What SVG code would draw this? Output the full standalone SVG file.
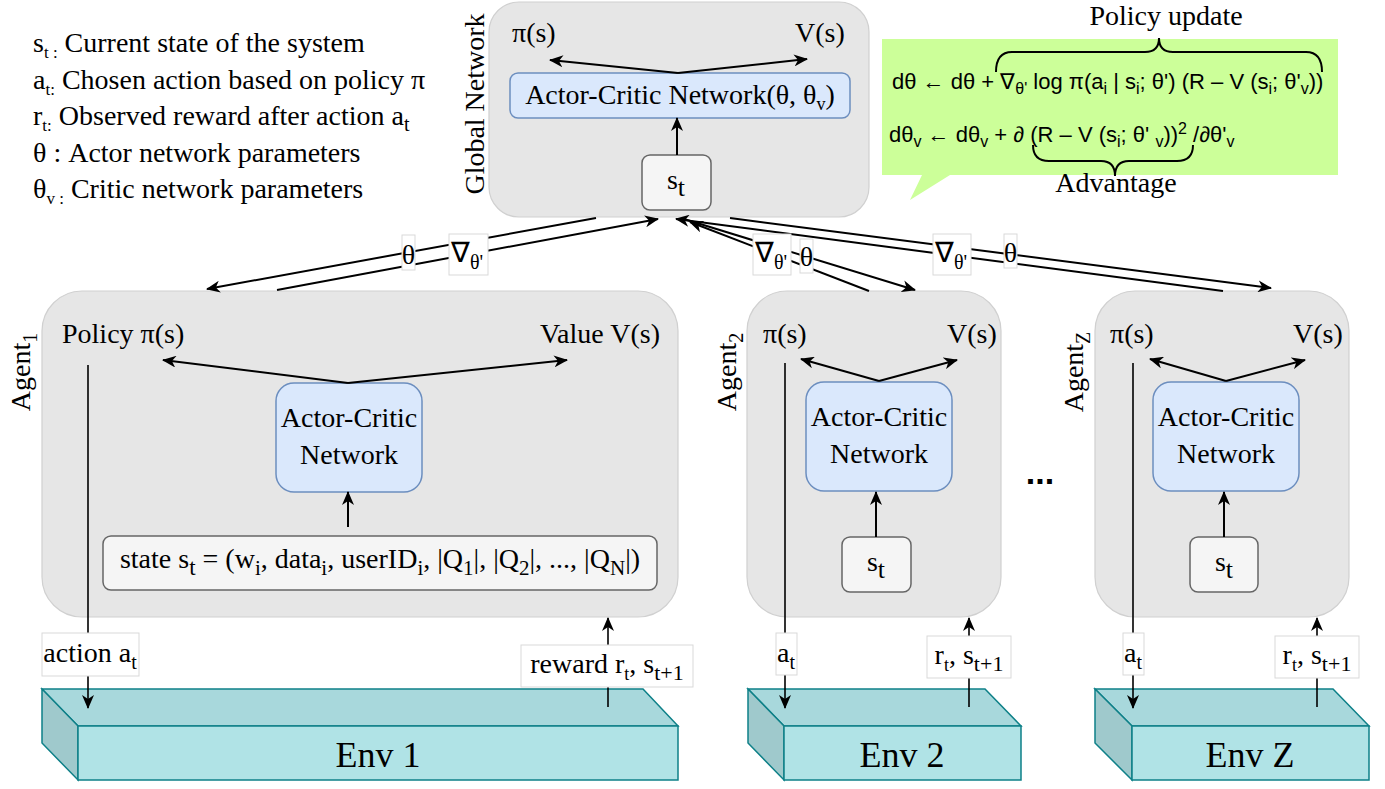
<svg xmlns="http://www.w3.org/2000/svg" width="1385" height="789" viewBox="0 0 1385 789">
<style>
.t{font-family:"Liberation Serif","Times New Roman",serif;font-size:28px;fill:#000}
.eq{font-family:"Liberation Sans",Arial,sans-serif;font-size:22px;fill:#000}
.env{font-family:"Liberation Serif","Times New Roman",serif;font-size:36px;fill:#000}
.box{fill:#e6e6e6;stroke:#d0d0d0;stroke-width:1.2}
.ac{fill:#dae8fc;stroke:#6c8ebf;stroke-width:1.5}
.st{fill:#f5f5f5;stroke:#666;stroke-width:1.5}
.lbl{fill:#fff;stroke:#d9d9d9;stroke-width:1}
.ln{stroke:#000;stroke-width:2;fill:none}
.ln1{stroke:#000;stroke-width:1.6;fill:none}
.ef{fill:#b0e3e6;stroke:#0e8088;stroke-width:1.5}
.et{fill:#a8d8dc;stroke:#0e8088;stroke-width:1.5}
.es{fill:#9fc9cc;stroke:#0e8088;stroke-width:1.5}
.brace{stroke:#000;stroke-width:2;fill:none}
</style>
<defs>
<marker id="ah" viewBox="0 0 14 12" refX="13" refY="6" markerWidth="14" markerHeight="12" markerUnits="userSpaceOnUse" orient="auto">
<path d="M0,0 L14,6 L0,12 L4,6 z" fill="#000"/>
</marker>
</defs>

<g id="legend">
<text class="t" x="33" y="52">s<tspan dy="6" font-size="17">t :</tspan><tspan dy="-6"> Current state of the system</tspan></text>
<text class="t" x="33" y="89">a<tspan dy="6" font-size="17">t:</tspan><tspan dy="-6"> Chosen action based on policy π</tspan></text>
<text class="t" x="33" y="125">r<tspan dy="6" font-size="17">t:</tspan><tspan dy="-6"> Observed reward after action a</tspan><tspan dy="6" font-size="20">t</tspan></text>
<text class="t" x="33" y="162">θ : Actor network parameters</text>
<text class="t" x="33" y="198">θ<tspan dy="6" font-size="17">v :</tspan><tspan dy="-6"> Critic network parameters</tspan></text>
</g>

<g id="global">
<rect class="box" x="489" y="2" width="380" height="215" rx="30"/>
<text class="t" transform="translate(484,104) rotate(-90)" text-anchor="middle">Global Network</text>
<text class="t" x="512" y="42">π(s)</text>
<text class="t" x="795" y="42">V(s)</text>
<rect class="ac" x="510" y="73" width="340" height="45" rx="8"/>
<text class="t" x="680" y="104" text-anchor="middle">Actor-Critic Network(θ, θ<tspan dy="6" font-size="18">v</tspan><tspan dy="-6">)</tspan></text>
<rect class="st" x="642" y="155" width="69" height="55" rx="8"/>
<text class="t" x="676" y="189" text-anchor="middle" font-size="30">s<tspan dy="7" font-size="26">t</tspan></text>
<line class="ln" x1="678" y1="73" x2="550" y2="60" marker-end="url(#ah)"/>
<line class="ln" x1="678" y1="73" x2="807" y2="59" marker-end="url(#ah)"/>
<line class="ln" x1="677" y1="155" x2="677" y2="118" marker-end="url(#ah)"/>
</g>

<g id="callout">
<path d="M882,39 H1338 V175 H950 L910,200 L922,175 H882 Z" fill="#ccff99"/>
<text class="t" x="1166" y="25" text-anchor="middle">Policy update</text>
<path class="brace" d="M996,72 Q996,52 1012,52 L1145,52 Q1159,52 1159,38 Q1159,52 1173,52 L1306,52 Q1322,52 1322,72"/>
<text class="eq" x="892" y="89">dθ ← dθ + ∇<tspan dy="5" font-size="16">θ'</tspan><tspan dy="-5"> log π(a</tspan><tspan dy="5" font-size="16">i</tspan><tspan dy="-5"> | s</tspan><tspan dy="5" font-size="16">i</tspan><tspan dy="-5">; θ') (R – V (s</tspan><tspan dy="5" font-size="16">i</tspan><tspan dy="-5">; θ'</tspan><tspan dy="5" font-size="16">v</tspan><tspan dy="-5">))</tspan></text>
<text class="eq" x="889" y="142">dθ<tspan dy="5" font-size="16">v</tspan><tspan dy="-5"> ← dθ</tspan><tspan dy="5" font-size="16">v</tspan><tspan dy="-5"> + ∂ (R – V (s</tspan><tspan dy="5" font-size="16">i</tspan><tspan dy="-5">; θ' </tspan><tspan dy="5" font-size="16">v</tspan><tspan dy="-5">))</tspan><tspan dy="-8" font-size="16">2</tspan><tspan dy="8"> /∂θ'</tspan><tspan dy="5" font-size="16">v</tspan></text>
<path class="brace" d="M1033,145 Q1033,161 1049,161 L1101,161 Q1115,161 1115,176 Q1115,161 1129,161 L1177,161 Q1193,161 1193,145"/>
<text class="t" x="1116" y="192" text-anchor="middle">Advantage</text>
</g>

<g id="agent1">
<rect class="box" x="42" y="291" width="636" height="326" rx="40"/>
<text class="t" transform="translate(30,372) rotate(-90)" text-anchor="middle">Agent<tspan dy="7" font-size="20">1</tspan></text>
<text class="t" x="62" y="343">Policy π(s)</text>
<text class="t" x="540" y="343">Value V(s)</text>
<rect class="ac" x="276" y="383" width="146" height="109" rx="18"/>
<text class="t" x="349" y="427" text-anchor="middle">Actor-Critic</text>
<text class="t" x="349" y="464" text-anchor="middle">Network</text>
<rect class="st" x="103" y="536" width="554" height="54" rx="8"/>
<text class="t" x="380" y="568" text-anchor="middle" fill="#222" font-size="29.5">state s<tspan dy="7" font-size="23">t</tspan><tspan dy="-7"> = (w</tspan><tspan dy="7" font-size="21">i</tspan><tspan dy="-7">, data</tspan><tspan dy="7" font-size="21">i</tspan><tspan dy="-7">, userID</tspan><tspan dy="7" font-size="21">i</tspan><tspan dy="-7">, |Q</tspan><tspan dy="7" font-size="21">1</tspan><tspan dy="-7">|, |Q</tspan><tspan dy="7" font-size="21">2</tspan><tspan dy="-7">|, ..., |Q</tspan><tspan dy="7" font-size="21">N</tspan><tspan dy="-7">|)</tspan></text>
<line class="ln" x1="348" y1="383" x2="163" y2="360" marker-end="url(#ah)"/>
<line class="ln" x1="348" y1="383" x2="567" y2="360" marker-end="url(#ah)"/>
<line class="ln" x1="348" y1="527" x2="348" y2="492" marker-end="url(#ah)"/>
</g>

<g id="agent2">
<rect class="box" x="747" y="291" width="254" height="326" rx="40"/>
<text class="t" transform="translate(736,372) rotate(-90)" text-anchor="middle">Agent<tspan dy="7" font-size="20">2</tspan></text>
<text class="t" x="763" y="343">π(s)</text>
<text class="t" x="947" y="343">V(s)</text>
<rect class="ac" x="806" y="382" width="146" height="109" rx="18"/>
<text class="t" x="879" y="426" text-anchor="middle">Actor-Critic</text>
<text class="t" x="879" y="463" text-anchor="middle">Network</text>
<rect class="st" x="842" y="537" width="69" height="55" rx="8"/>
<text class="t" x="876" y="571" text-anchor="middle" font-size="30">s<tspan dy="7" font-size="26">t</tspan></text>
<line class="ln" x1="879" y1="381" x2="801" y2="359" marker-end="url(#ah)"/>
<line class="ln" x1="879" y1="381" x2="957" y2="360" marker-end="url(#ah)"/>
<line class="ln" x1="876" y1="537" x2="876" y2="492" marker-end="url(#ah)"/>
</g>

<g id="dots">
<text x="1040" y="484" text-anchor="middle" font-family="Liberation Sans, Arial, sans-serif" font-size="34" font-weight="bold">...</text>
</g>

<g id="agentZ">
<rect class="box" x="1095" y="291" width="254" height="326" rx="40"/>
<text class="t" transform="translate(1083,372) rotate(-90)" text-anchor="middle">Agent<tspan dy="7" font-size="20">Z</tspan></text>
<text class="t" x="1110" y="343">π(s)</text>
<text class="t" x="1293" y="343">V(s)</text>
<rect class="ac" x="1153" y="382" width="146" height="109" rx="18"/>
<text class="t" x="1226" y="426" text-anchor="middle">Actor-Critic</text>
<text class="t" x="1226" y="463" text-anchor="middle">Network</text>
<rect class="st" x="1190" y="537" width="68" height="55" rx="8"/>
<text class="t" x="1224" y="571" text-anchor="middle" font-size="30">s<tspan dy="7" font-size="26">t</tspan></text>
<line class="ln" x1="1226" y1="381" x2="1150" y2="359" marker-end="url(#ah)"/>
<line class="ln" x1="1226" y1="381" x2="1305" y2="360" marker-end="url(#ah)"/>
<line class="ln" x1="1224" y1="537" x2="1224" y2="492" marker-end="url(#ah)"/>
</g>

<g id="env1">
<polygon class="et" points="42,689 643,689 678,726 78,726"/>
<polygon class="es" points="42,689 78,726 78,780 42,743"/>
<rect class="ef" x="78" y="726" width="600" height="54"/>
<text class="env" x="378" y="767" text-anchor="middle">Env 1</text>
</g>
<g id="env2">
<polygon class="et" points="748,689 985,689 1021,726 784,726"/>
<polygon class="es" points="748,689 784,726 784,780 748,743"/>
<rect class="ef" x="784" y="726" width="237" height="54"/>
<text class="env" x="902" y="767" text-anchor="middle">Env 2</text>
</g>
<g id="envZ">
<polygon class="et" points="1095,689 1333,689 1369,726 1132,726"/>
<polygon class="es" points="1095,689 1132,726 1132,780 1095,743"/>
<rect class="ef" x="1132" y="726" width="237" height="54"/>
<text class="env" x="1250" y="767" text-anchor="middle">Env Z</text>
</g>

<g id="connectors">
<line class="ln" x1="596" y1="218" x2="207" y2="289" marker-end="url(#ah)"/>
<line class="ln" x1="277" y1="290" x2="658" y2="219" marker-end="url(#ah)"/>
<line class="ln" x1="684" y1="219" x2="915" y2="290" marker-end="url(#ah)"/>
<line class="ln" x1="869" y1="291" x2="690" y2="222" marker-end="url(#ah)"/>
<line class="ln" x1="730" y1="218" x2="1271" y2="288" marker-end="url(#ah)"/>
<line class="ln" x1="1223" y1="291" x2="676" y2="219" marker-end="url(#ah)"/>
<rect class="lbl" x="402" y="235" width="13" height="35"/>
<text class="t" x="408.5" y="264" text-anchor="middle">θ</text>
<rect class="lbl" x="449" y="234" width="39" height="41"/>
<text class="t" x="451" y="262">∇<tspan dy="7" font-size="20">θ'</tspan></text>
<rect class="lbl" x="753" y="234" width="38" height="41"/>
<text class="t" x="755" y="262">∇<tspan dy="7" font-size="20">θ'</tspan></text>
<rect class="lbl" x="800" y="239" width="13" height="34"/>
<text class="t" x="806.5" y="266" text-anchor="middle">θ</text>
<rect class="lbl" x="933" y="234" width="38" height="41"/>
<text class="t" x="935" y="262">∇<tspan dy="7" font-size="20">θ'</tspan></text>
<rect class="lbl" x="1004" y="234" width="13" height="34"/>
<text class="t" x="1010.5" y="262" text-anchor="middle">θ</text>

<line class="ln1" x1="88" y1="365" x2="88" y2="708" marker-end="url(#ah)"/>
<line class="ln1" x1="608" y1="707" x2="608" y2="618" marker-end="url(#ah)"/>
<rect class="lbl" x="42" y="633" width="97" height="43"/>
<text class="t" x="90" y="662" text-anchor="middle">action a<tspan dy="7" font-size="20">t</tspan></text>
<rect class="lbl" x="521" y="645" width="172" height="42"/>
<text class="t" x="607" y="673" text-anchor="middle">reward r<tspan dy="7" font-size="18">t</tspan><tspan dy="-7">, s</tspan><tspan dy="7" font-size="22">t+1</tspan></text>

<line class="ln1" x1="785" y1="363" x2="785" y2="708" marker-end="url(#ah)"/>
<line class="ln1" x1="969" y1="707" x2="969" y2="618" marker-end="url(#ah)"/>
<rect class="lbl" x="776" y="633" width="21" height="42"/>
<text class="t" x="786" y="662" text-anchor="middle">a<tspan dy="7" font-size="20">t</tspan></text>
<rect class="lbl" x="927" y="636" width="84" height="42"/>
<text class="t" x="969" y="664" text-anchor="middle">r<tspan dy="7" font-size="18">t</tspan><tspan dy="-7">, s</tspan><tspan dy="7" font-size="22">t+1</tspan></text>

<line class="ln1" x1="1133" y1="363" x2="1133" y2="708" marker-end="url(#ah)"/>
<line class="ln1" x1="1317" y1="707" x2="1317" y2="618" marker-end="url(#ah)"/>
<rect class="lbl" x="1123" y="633" width="21" height="42"/>
<text class="t" x="1133" y="662" text-anchor="middle">a<tspan dy="7" font-size="20">t</tspan></text>
<rect class="lbl" x="1275" y="636" width="84" height="42"/>
<text class="t" x="1317" y="664" text-anchor="middle">r<tspan dy="7" font-size="18">t</tspan><tspan dy="-7">, s</tspan><tspan dy="7" font-size="22">t+1</tspan></text>
</g>
</svg>
